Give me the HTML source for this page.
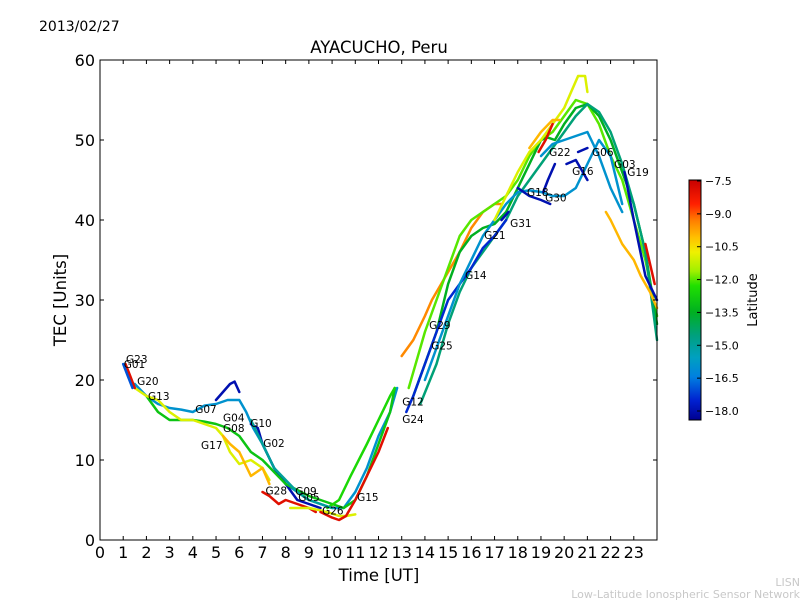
<!DOCTYPE html>
<html><head><meta charset="utf-8"><style>
body{margin:0;background:#fff;}
svg text{font-family:"DejaVu Sans","Liberation Sans",sans-serif;}
</style></head><body>
<svg id="chart" width="800" height="600" xmlns="http://www.w3.org/2000/svg">
<rect width="800" height="600" fill="#fff"/>
<text x="39" y="31" font-size="14">2013/02/27</text>
<text x="379" y="53" font-size="16.5" text-anchor="middle">AYACUCHO, Peru</text>
<text x="379" y="581" font-size="16.5" text-anchor="middle">Time [UT]</text>
<text x="66" y="300" font-size="16.5" text-anchor="middle" transform="rotate(-90 66 300)">TEC [Units]</text>
<text x="800" y="586" font-size="11" fill="#c8c8c8" text-anchor="end">LISN</text>
<text x="800" y="598" font-size="11" fill="#c8c8c8" text-anchor="end">Low-Latitude Ionospheric Sensor Network</text>
<g id="series"></g>
<g id="labels"></g>
<g id="axes"></g>
<defs><linearGradient id="cbg" x1="0" y1="0" x2="0" y2="1">
<stop offset="0" stop-color="#c80000"/><stop offset="0.1" stop-color="#ff2000"/><stop offset="0.17" stop-color="#ff8000"/>
<stop offset="0.24" stop-color="#ffc000"/><stop offset="0.3" stop-color="#f0f000"/><stop offset="0.38" stop-color="#a0f000"/>
<stop offset="0.44" stop-color="#20e000"/><stop offset="0.55" stop-color="#00b020"/><stop offset="0.65" stop-color="#00a080"/>
<stop offset="0.74" stop-color="#00a0c0"/><stop offset="0.82" stop-color="#0080e0"/><stop offset="0.92" stop-color="#0020d0"/>
<stop offset="1" stop-color="#000090"/></linearGradient></defs>
<rect x="689" y="180" width="12" height="240" fill="url(#cbg)" stroke="#000" stroke-width="1"/>
<g id="cbticks"></g>
<text x="757" y="300" font-size="13" text-anchor="middle" transform="rotate(-90 757 300)">Latitude</text>
</svg>
<script>
const xTicks=[0,1,2,3,4,5,6,7,8,9,10,11,12,13,14,15,16,17,18,19,20,21,22,23];
const yTicks=[0,10,20,30,40,50,60];
const cbTicks=[-7.5,-9.0,-10.5,-12.0,-13.5,-15.0,-16.5,-18.0];
const satLat=[-16,-18,-18,-13,-11,-10,-8,-11,-8,-12.5,-9.5,-12,-13.5,-14.5,-17.5,-16,-11,-10,-8,-18,-18,-18,-16,-10,-18,-8,-18,-18,-8,-17,-15];
const satHours=[
[1.5,2,2.5,3,3.5,4,4.5,5,5.5,6,6.3,6.6,7,7.5,8,9,10,10.5,11,11.5,12,12.5,12.8],
[5,5.3,5.6,5.8,6],
[6.5,6.8,7,7.5,8,8.5,9,9.5],
[2,2.5,3,3.5,4,4.5,5,5.5,6,6.5,7,7.5,8,9,10,10.5,11,11.5,12,12.5,12.7],
[1.5,2,2.5,3,3.5,4,4.5,5,5.3,5.6,6,6.5,7,7.3],
[5.3,5.6,6,6.5,7,7.3],
[7,7.3,7.7,8,8.5,9,9.3],
[8.2,8.5,9,9.5,10,10.3,10.6,11],
[9.5,10,10.3,10.6,11,11.5,12,12.4],
[9.8,10.3,10.8,11.5,12,12.5,12.7],
[13,13.5,14,14.3,14.7,15,15.5,16,16.5,17,17.3],
[13.3,14,15,15.5,16,16.5,17,17.5,18,18.5,19,19.5,20,20.5,21,21.5,22,22.5,23,23.5,24],
[13.5,14.5,15,15.5,16,16.5,17,17.5,18,18.5,19,19.3,19.6,20,20.5,21,21.5,22,22.5,23,23.5,24],
[13.8,14.5,15,15.5,16,16.5,17,17.5,18,18.5,19,19.5,20,20.5,21,21.5,22,22.5,23,23.5,24],
[13.2,13.5,14,14.5,15,15.5,16,16.5,17,17.5],
[14,15,15.5,16,16.5,17,17.5,18,18.5,19,19.5,20,20.5,21,21.5,22,22.5],
[17,17.5,18,18.5,19,19.5,20,20.3,20.6,20.9,21],
[18.5,19,19.5,19.8],
[18.9,19.2,19.5],
[18,18.5,19,19.4],
[19.1,19.3,19.6],
[20.1,20.5,21],
[19,19.5,20,20.5,21,21.5,22,22.5],
[21.8,22,22.5,23,23.3,23.7,24],
[22.6,23,23.5,24],
[23.5,23.9],
[20.6,21],
[17.3,17.6],
[1.1,1.3,1.5],
[1,1.2,1.4],
[6.5,7,7.5,8,8.5,9,9.5,10]
];
const satTec=[
[19.5,18,17,16.5,16.3,16,16.8,17,17.5,17.5,16,14,12,9,7,5,4,4,6,9,13,16,19],
[17.5,18.5,19.5,19.8,18.5],
[14.5,14,12,9,7,5,4.5,4],
[18,16,15,15,15,14.8,14.5,14,13,11,10,8.5,7,5.5,4.5,4,5,8,12,16,19],
[19,18,17.5,16,15,15,14.5,14,13,11,9.5,10,9,7.5],
[13,12,11,8,9,7],
[6,5.5,4.5,5,4.5,4,3.5],
[4,4,4,3.7,3.3,3,3,3.2],
[3.5,2.8,2.5,3,5,8,11,14],
[4,5,8,12,15,18,19],
[23,25,28,30,32,33.5,36,39,41,42,42],
[19,26,34,38,40,41,42,43,45,48,50,51,53,55,54.5,52,48,45,40,35,28],
[18,26,32,36,38,39,39.5,41,44,47,50,50.3,50,52,54,54.5,53,50,46,42,36,27],
[17,22,27,31,34,36,38,40,43,45,47,49,51,53,54.5,53.5,51,47,42,36,25],
[16,18,22,26,30,32,34,36.5,38,40],
[20,28,32,35,38,40,42,43.5,43.7,43.5,43,43,44,47,50,48,42],
[40,43,46,48.5,50,52,54,56,58,58,56],
[49,51,52.5,52.5],
[48.5,50,52],
[44,43,42.5,42],
[43.5,45,47],
[47,47.5,45],
[48,49.5,50,50.5,51,48,44,41],
[41,40,37,35,33,31,29],
[46,40,33,30],
[37,32],
[48.5,49],
[40,41],
[22,20.5,19],
[22,20.5,19],
[15,12,9,7.5,6,5,4.5,4]
];
const labelNames=["G23","G01","G20","G13","G07","G04","G08","G10","G17","G02","G28","G09","G05","G26","G15","G12","G24","G29","G25","G14","G21","G31","G18","G30","G22","G16","G06","G03","G19"];
const labelHours=[1.12,1.02,1.6,2.07,4.1,5.3,5.3,6.47,4.35,7.03,7.13,8.41,8.54,9.57,11.08,13.02,13.02,14.18,14.27,15.73,16.55,17.67,18.4,19.18,19.35,20.34,21.2,22.15,22.72];
const labelTec=[22.6,22,19.9,18,16.4,15.3,14,14.6,11.9,12.1,6.2,6.1,5.4,3.7,5.4,17.3,15.1,26.9,24.3,33.1,38.1,39.6,43.5,42.8,48.5,46.1,48.5,47,46];

const NS="http://www.w3.org/2000/svg";
const X0=100,X1=657,Y0=540,Y1=60;
const xs=h=>X0+h*(X1-X0)/24;
const ys=v=>Y0-v*(Y0-Y1)/60;
const cbY=l=>181+(-7.5-l)*(230/10.5);
const stops=[[-7.5,[200,0,0]],[-8.6,[255,32,0]],[-9.4,[255,128,0]],[-10.1,[255,192,0]],[-10.8,[240,240,0]],[-11.6,[160,240,0]],[-12.3,[32,224,0]],[-13.5,[0,176,32]],[-14.6,[0,160,128]],[-15.6,[0,160,192]],[-16.5,[0,128,224]],[-17.6,[0,32,208]],[-18.4,[0,0,144]]];
function col(l){for(let i=0;i<stops.length-1;i++){const a=stops[i],b=stops[i+1];if(l<=a[0]&&l>=b[0]){const t=(a[0]-l)/(a[0]-b[0]);const c=a[1].map((v,k)=>Math.round(v+(b[1][k]-v)*t));return `rgb(${c})`;}}return l>-7.5?'rgb(200,0,0)':'rgb(0,0,144)';}
function el(tag,attrs,parent){const e=document.createElementNS(NS,tag);for(const k in attrs)e.setAttribute(k,attrs[k]);parent.appendChild(e);return e;}
const sg=document.getElementById('series');
satHours.forEach((hs,i)=>{
 const d=hs.map((h,j)=>(j?'L':'M')+xs(h).toFixed(1)+','+ys(satTec[i][j]).toFixed(1)).join('');
 const p=el('path',{d:d,fill:'none',stroke:col(satLat[i]),'stroke-width':2.5,'stroke-linejoin':'round','stroke-linecap':'round'},sg);
 
 
});
const lg=document.getElementById('labels');
labelNames.forEach((n,i)=>{
 const t=el('text',{x:xs(labelHours[i]).toFixed(1),y:(ys(labelTec[i])+4).toFixed(1),'font-size':10.5},lg);
 t.textContent=n;
 
 
});
const ag=document.getElementById('axes');
const fr=el('rect',{x:X0,y:Y1,width:X1-X0,height:Y0-Y1,fill:'none',stroke:'#000','stroke-width':1},ag);


xTicks.forEach(h=>{
 const x=xs(h);
 el('line',{x1:x,x2:x,y1:Y0,y2:Y0-4,stroke:'#000'},ag);
 el('line',{x1:x,x2:x,y1:Y1,y2:Y1+4,stroke:'#000'},ag);
 const t=el('text',{x:x,y:558,'font-size':16,'text-anchor':'middle'},ag);
 t.textContent=h;
 
 
});
yTicks.forEach(v=>{
 const y=ys(v);
 el('line',{x1:X0,x2:X0+4,y1:y,y2:y,stroke:'#000'},ag);
 el('line',{x1:X1,x2:X1-4,y1:y,y2:y,stroke:'#000'},ag);
 const t=el('text',{x:95,y:y+6,'font-size':16,'text-anchor':'end'},ag);
 t.textContent=v;
 
 
});
const cg=document.getElementById('cbticks');
cbTicks.forEach(l=>{
 const y=cbY(l);
 el('line',{x1:697,x2:701,y1:y,y2:y,stroke:'#000'},cg);
 const t=el('text',{x:705,y:y+4,'font-size':11},cg);
 t.textContent='\u2212'+Math.abs(l).toFixed(1);
 
 
});
</script>
</body></html>
